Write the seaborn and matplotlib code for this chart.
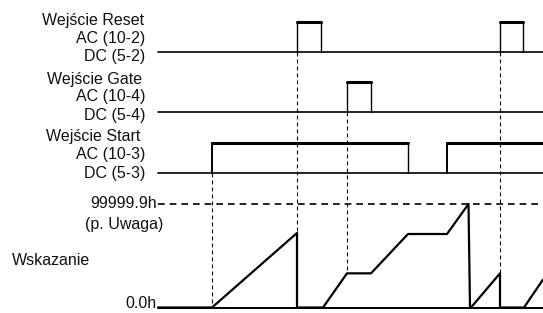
import numpy as np
import pandas as pd
import seaborn as sns
import matplotlib.pyplot as plt

# time axis (arbitrary units), 0 = left end of the signal lines
t_end = 385
reset_pulses = [(139, 163), (342, 365)]
gate_pulses = [(189, 213)]
start_pulses = [(54, 250), (289, 385)]

# indicator value in % of full scale (100 = 99999.9h)
ind_t = [0, 54, 139, 139, 165, 189, 213, 250, 289, 310.5, 312, 313, 342, 342, 366, 385]
ind_v = [0, 0, 72, 0, 0, 33, 33, 71, 71, 100, 0, 0, 33, 0, 0, 27]

sig_labels = [("Wejście Reset", "AC (10-2)", "DC (5-2)"),
              ("Wejście Gate", "AC (10-4)", "DC (5-4)"),
              ("Wejście Start", "AC (10-3)", "DC (5-3)")]

sns.set_theme(style="white")
plt.rcParams['font.family'] = ['Liberation Sans', 'DejaVu Sans']

fig = plt.figure(figsize=(5.43, 3.13), dpi=100)
ax = fig.add_axes([0, 0, 1, 1])
ax.set_xlim(-158, 385)
ax.set_ylim(313, 0)
ax.axis("off")

base_y = [52, 112, 173]
high = 30
ind_zero = 307.5
ind_scale = 1.035


def line(x, y, lw, ls="-"):
    sns.lineplot(x=x, y=y, ax=ax, color="black", lw=lw, linestyle=ls,
                 estimator=None, sort=False, legend=False)


for k, pulses in enumerate([reset_pulses, gate_pulses, start_pulses]):
    b = base_y[k]
    line([0, t_end], [b, b], 1.2)
    for (a, e) in pulses:
        line([a, a], [b, b - high], 1.0 if k < 2 else 1.4)
        line([a, min(e, t_end)], [b - high, b - high], 2.2)
        if e < t_end:
            line([e, e], [b - high, b], 1.0)

# indicator
iy = [ind_zero - v * ind_scale for v in ind_v]
line([0, t_end], [ind_zero, ind_zero], 1.4)
line(ind_t, iy, 1.6)

# full-scale dashed line
full_y = ind_zero - 100 * ind_scale
line([0, t_end], [full_y, full_y], 1.2, (0, (4, 3)))

# vertical dashed guides
vd = (0, (3.5, 2.8))
line([54, 54], [base_y[2], ind_zero], 0.8, vd)
line([139, 139], [base_y[0], ind_zero - 72 * ind_scale], 0.8, vd)
line([189, 189], [base_y[1], ind_zero - 33 * ind_scale], 0.8, vd)
line([342, 342], [base_y[0], ind_zero - 33 * ind_scale], 0.8, vd)

fs = 11.5


def ftext(x, y, s, ha="right"):
    fig.text(x / 543, 1 - y / 313, s, ha=ha, va="center", fontsize=fs,
             color="#111111")


head_x = [144, 142, 140]
for k, (h, ac, dc) in enumerate(sig_labels):
    y0 = [20, 79, 137][k]
    ftext(head_x[k], y0, h)
    ftext(145.5, y0 + 18, ac)
    ftext(145.5, y0 + 36.5, dc)

ftext(157, 204, "99999.9h")
ftext(124, 224, "(p. Uwaga)", ha="center")
ftext(12, 260.5, "Wskazanie", ha="left")
ftext(157, 304, "0.0h")

fig.savefig("out.png", dpi=100)
